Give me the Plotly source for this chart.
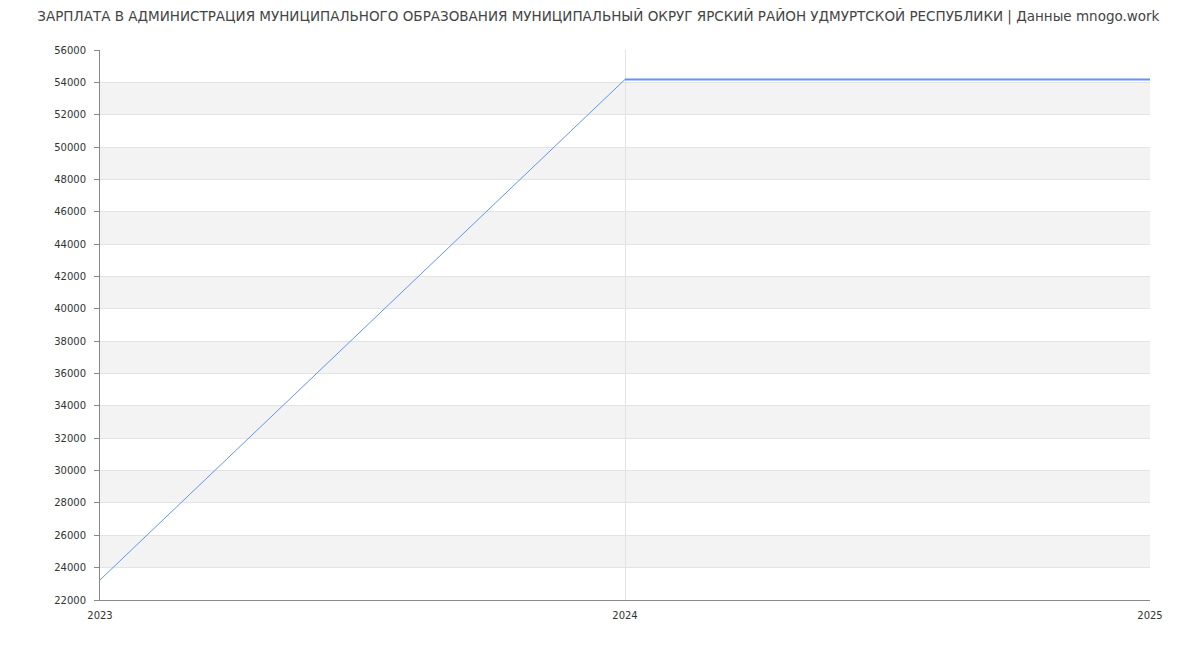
import plotly.graph_objects as go

years = [2023, 2024, 2025]
salary = [23240, 54180, 54180]
flat_years = [2024, 2025]
flat_salary = [54180, 54180]
y_ticks = list(range(22000, 56001, 2000))
band_starts = list(range(24000, 54000, 4000))

title = "ЗАРПЛАТА В АДМИНИСТРАЦИЯ МУНИЦИПАЛЬНОГО ОБРАЗОВАНИЯ МУНИЦИПАЛЬНЫЙ ОКРУГ ЯРСКИЙ РАЙОН УДМУРТСКОЙ РЕСПУБЛИКИ | Данные mnogo.work"

fig = go.Figure()
fig.add_trace(go.Scatter(x=years, y=salary, mode="lines",
                         line=dict(color="#6495ED", width=1), hoverinfo="x+y"))
fig.add_trace(go.Scatter(x=flat_years, y=flat_salary, mode="lines",
                         line=dict(color="#6495ED", width=2), hoverinfo="skip"))

shapes = []
for b in band_starts:
    shapes.append(dict(type="rect", xref="paper", yref="y", x0=0, x1=1, y0=b, y1=b + 2000,
                       fillcolor="#f3f3f3", line=dict(width=0), layer="below"))

fig.update_layout(
    width=1200, height=650,
    margin=dict(l=92, r=58, t=42, b=58),
    paper_bgcolor="white", plot_bgcolor="white",
    showlegend=False,
    shapes=shapes,
    title=dict(text=title, x=0.492, xanchor="center", y=1 - 8 / 650, yanchor="middle",
               font=dict(family="DejaVu Sans", size=13.5, color="#444")),
    font=dict(family="DejaVu Sans", size=10, color="#333"),
    xaxis=dict(range=[2023, 2025], tickvals=years, ticktext=[str(y) for y in years],
               showgrid=True, gridcolor="#e3e3e3", gridwidth=1,
               showline=True, linecolor="#888", linewidth=1,
               ticks="", zeroline=False, ticklabelstandoff=6,
               tickfont=dict(size=10, color="#333")),
    yaxis=dict(range=[22000, 56000], tickvals=y_ticks, ticktext=[str(v) for v in y_ticks],
               showgrid=True, gridcolor="#e3e3e3", gridwidth=1,
               showline=True, linecolor="#888", linewidth=1,
               ticks="outside", ticklen=5, tickcolor="#888", ticklabelstandoff=6,
               zeroline=False, tickfont=dict(size=10, color="#333")),
)
fig.write_html("out.html")
